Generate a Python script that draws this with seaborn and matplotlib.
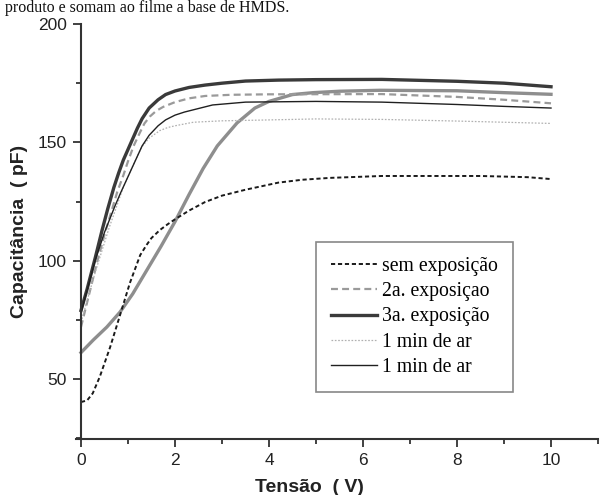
import matplotlib
matplotlib.use("Agg")
import matplotlib.pyplot as plt
import seaborn as sns
from matplotlib.ticker import MultipleLocator

# ---- data ----
v_sem = [0, 0.13, 0.25, 0.4, 0.62, 0.83, 1.04, 1.26, 1.4, 1.5, 1.68, 1.85, 2.0, 2.3, 2.64, 3.0, 3.5, 4.2, 4.7, 5.3, 6.4, 8.5, 9.5, 10]
c_sem = [40.3, 41.0, 44, 51, 63.5, 77, 90.6, 102.4, 106.8, 109.6, 113, 115.5, 117.5, 121.2, 124.8, 127.5, 130, 133, 134.2, 135, 135.8, 135.8, 135.3, 134.5]

v_2a = [0, 0.2, 0.35, 0.5, 0.65, 0.77, 0.9, 1.0, 1.12, 1.25, 1.35, 1.47, 1.6, 1.75, 2.0, 2.3, 2.64, 3.2, 4, 6.4, 8, 9, 10]
c_2a = [72, 88, 100, 111, 121, 129, 136, 142, 148.5, 154, 158, 161, 163.3, 165, 167, 168.6, 169.6, 170.1, 170.3, 170.4, 169.2, 168, 166.5]

v_3a = [0, 0.13, 0.3, 0.45, 0.57, 0.7, 0.8, 0.9, 1.0, 1.1, 1.2, 1.3, 1.45, 1.64, 1.8, 2.0, 2.3, 2.64, 3.0, 3.5, 4.2, 5, 6.4, 8, 9, 10]
c_3a = [79, 88, 101, 113, 122, 131, 137, 142.5, 147, 151.5, 156, 160, 164.5, 168, 170.2, 171.7, 173.2, 174.2, 175, 175.9, 176.3, 176.5, 176.6, 175.8, 175, 173.5]

v_ar1 = [0, 0.3, 0.6, 0.9, 1.1, 1.29, 1.45, 1.68, 1.85, 2.0, 2.39, 3.0, 3.8, 5, 6.4, 8, 9, 10]
c_ar1 = [74, 95, 114, 131, 140, 148, 151.8, 155, 156.3, 157, 158.5, 159.1, 159.4, 159.9, 159.7, 159, 158.5, 158]

v_ar2 = [0, 0.15, 0.3, 0.5, 0.72, 0.85, 1.0, 1.15, 1.3, 1.45, 1.64, 1.8, 2.0, 2.2, 2.4, 2.8, 3.5, 5, 6.4, 8, 9, 10]
c_ar2 = [78, 89, 100, 112, 123, 129, 135.5, 142, 148.5, 153, 157, 159.5, 161.5, 162.8, 163.8, 165.8, 167, 167.3, 167, 166, 165.2, 164.5]

v_x = [0, 0.26, 0.55, 0.83, 1.1, 1.4, 1.7, 2.0, 2.3, 2.6, 2.9, 3.32, 3.7, 4.0, 4.5, 4.94, 5.5, 6.36, 8, 9, 10]
c_x = [61.2, 66.5, 72, 78.3, 86, 96, 106, 116.5, 128, 139, 148.5, 158.2, 164.5, 167.3, 170.2, 171.0, 171.6, 172, 171.8, 171, 170.3]

labels = ["sem exposição", "2a. exposiçao", "3a. exposição", "1 min de ar", "1 min de ar"]
x_ticks = [0, 2, 4, 6, 8, 10]
y_ticks = [50, 100, 150, 200]

plt.rcParams["lines.scale_dashes"] = False
plt.rcParams["font.family"] = ["Liberation Sans", "DejaVu Sans"]

fig = plt.figure(figsize=(6, 4.95), dpi=100)
ax = fig.add_axes([76.3 / 600, 56 / 495, 521.7 / 600, 415 / 495])

styles = [
    (v_sem, c_sem, dict(color="#1a1a1a", lw=1.4, dashes=(3, 2))),
    (v_2a, c_2a, dict(color="#9a9a9a", lw=1.6, dashes=(5, 3))),
    (v_3a, c_3a, dict(color="#3a3a3a", lw=2.4)),
    (v_ar1, c_ar1, dict(color="#b0b0b0", lw=0.9, dashes=(1.2, 1.2))),
    (v_ar2, c_ar2, dict(color="#202020", lw=1.0)),
]

handles = []
# extra curve without legend entry
sns.lineplot(x=v_x, y=c_x, ax=ax, color="#8e8e8e", lw=2.4, sort=False, estimator=None)
for (vv, cc, st), lab in zip(styles, labels):
    st = dict(st)
    dashes = st.pop("dashes", None)
    n0 = len(ax.lines)
    sns.lineplot(x=vv, y=cc, ax=ax, sort=False, estimator=None, **st)
    ln = ax.lines[n0]
    if dashes is not None:
        ln.set_dashes(dashes)
    ln.set_label(lab)
    handles.append(ln)

ax.set_xlim(-0.1, 11)
ax.set_ylim(24.7, 200)
ax.set_xticks(x_ticks)
ax.set_yticks(y_ticks)
ax.xaxis.set_minor_locator(MultipleLocator(1))
ax.yaxis.set_minor_locator(MultipleLocator(25))

for s in ["top", "right"]:
    ax.spines[s].set_visible(False)
ax.spines["left"].set_position(("data", 0))
for s in ["left", "bottom"]:
    ax.spines[s].set_color("#333333")
    ax.spines[s].set_linewidth(1.5)

ax.tick_params(axis="both", which="major", direction="out", length=6, width=1.3,
               colors="#333333", labelsize=12.5, labelcolor="#222222")
ax.tick_params(axis="both", which="minor", direction="out", length=3.5, width=1.3, colors="#333333")
ax.tick_params(axis="x", pad=4)
ax.tick_params(axis="y", pad=4)

ax.set_xlabel("Tensão  ( V)", fontsize=14, fontweight="bold", color="#222222")
ax.set_ylabel("Capacitância  ( pF)", fontsize=14, fontweight="bold", color="#222222")
ax.xaxis.set_label_coords(0.446, -0.118)
ax.xaxis.label.set_va("center")
ax.yaxis.set_label_coords(-0.108, 0.5)
ax.yaxis.label.set_va("center")

leg = ax.legend(handles=handles, labels=labels, loc="upper left",
                bbox_to_anchor=((316 - 76.3) / 521.7, (439 - 242) / 415), borderaxespad=0,
                prop={"family": "Liberation Serif", "size": 14.2},
                handlelength=2.35, handletextpad=0.27, borderpad=0.75, labelspacing=0.32,
                fancybox=False, framealpha=1, edgecolor="#888888")
leg.get_frame().set_linewidth(1.2)

fig.text(5 / 600, 1 - 12 / 495, "produto e somam ao filme a base de HMDS.",
         family="Liberation Serif", fontsize=11.5, va="baseline", ha="left", color="#111111")

fig.savefig("out.png", dpi=100)
